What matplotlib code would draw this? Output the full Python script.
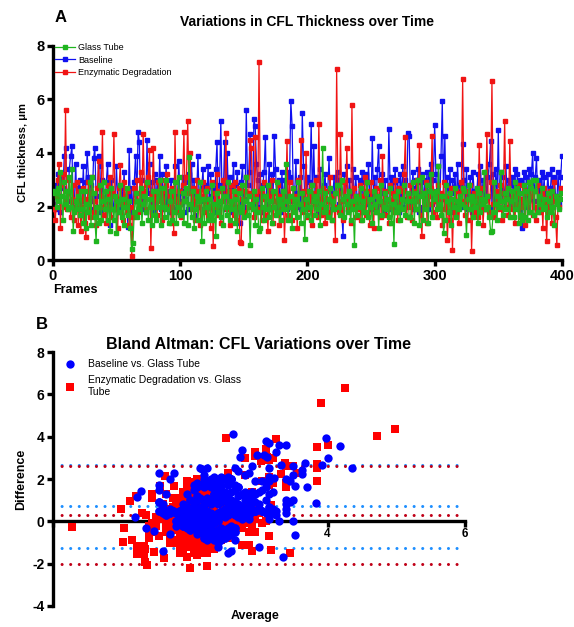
import numpy as np
import matplotlib
matplotlib.use("Agg")
import matplotlib.pyplot as plt

plt.rcParams['font.family'] = ['Liberation Sans', 'DejaVu Sans']
plt.rcParams['axes.unicode_minus'] = False

## CFL thickness (um) per frame
glass = [
    2.6,2.5,2.0,2.7,2.2,3.3,2.4,1.5,2.9,2.1,2.6,1.9,3.1,2.0,3.4,1.1,1.8,2.2,1.9,2.4,
    1.7,2.6,1.9,1.4,2.6,1.2,2.1,1.8,2.9,1.3,3.1,2.5,1.6,0.7,2.0,1.4,2.8,1.5,2.2,2.9,
    1.9,2.6,1.5,2.3,1.1,2.7,1.9,1.5,2.4,1.0,2.2,1.8,2.8,1.6,2.3,1.3,2.0,2.7,1.7,2.2,
    1.2,0.4,0.65,1.8,2.5,1.6,2.2,1.9,2.7,1.4,2.1,2.4,1.8,2.9,1.5,2.3,2.0,1.3,2.6,1.7,
    1.5,2.6,2.0,3.0,1.3,2.7,2.0,1.6,3.0,1.9,1.4,2.2,2.6,1.5,1.8,2.9,1.4,2.0,3.1,1.7,
    1.8,2.5,1.4,2.2,2.7,1.3,3.85,2.1,1.6,2.6,1.2,1.9,2.4,1.5,2.2,2.9,0.72,2.3,1.4,2.6,
    2.0,1.5,2.3,1.7,2.8,1.5,2.1,0.9,2.5,1.8,2.2,1.6,2.7,1.3,2.4,2.0,1.7,2.9,1.5,2.2,
    1.9,2.6,1.4,2.3,1.1,2.5,2.0,1.8,2.8,1.6,2.2,3.1,1.7,2.4,0.55,2.1,1.9,2.6,1.3,2.3,
    1.8,1.1,1.2,2.7,2.0,1.5,2.4,1.9,2.8,1.6,2.2,1.4,2.6,2.0,1.7,2.9,1.8,2.3,1.5,2.1,
    2.6,1.9,3.6,2.2,1.5,2.4,2.0,1.2,2.7,1.8,2.3,1.6,2.9,2.1,1.4,2.5,1.9,0.8,2.3,1.7,
    2.6,2.0,1.5,2.8,2.2,1.7,2.4,1.9,2.6,1.3,2.1,4.2,1.8,2.5,2.0,1.6,2.3,2.7,1.5,2.2,
    1.9,2.5,2.8,2.8,2.0,1.7,3.0,2.3,1.6,2.4,2.1,1.8,2.6,1.5,2.2,1.9,0.56,2.4,1.7,2.3,
    2.0,2.7,1.5,2.2,1.8,2.5,2.9,1.6,2.3,2.0,1.4,2.6,2.1,1.8,2.4,1.2,2.2,2.8,1.7,2.0,
    2.5,1.9,2.3,1.6,2.7,1.4,2.1,0.62,2.4,1.8,2.6,2.0,1.5,2.3,1.9,2.8,1.7,2.2,2.5,1.6,
    1.6,2.2,2.9,1.4,2.5,1.9,3.0,1.3,2.4,3.1,1.5,2.5,1.9,2.8,1.4,2.6,3.2,1.6,2.5,2.3,
    2.6,1.9,3.5,2.1,1.7,2.4,1.0,1.5,2.8,2.2,1.8,2.5,1.3,2.3,2.0,2.7,1.6,2.2,1.9,2.4,
    2.1,2.7,2.6,2.0,0.93,2.3,2.8,1.9,2.4,1.6,2.2,2.0,2.7,1.4,2.5,1.8,2.3,2.1,3.3,1.9,
    2.4,2.0,1.6,1.06,1.1,1.8,2.9,2.1,1.5,2.4,2.0,3.3,2.2,1.7,2.5,1.9,2.3,2.7,1.6,2.2,
    2.6,1.6,2.9,1.9,2.7,1.4,2.5,1.7,1.5,2.8,1.6,2.6,1.5,2.9,1.8,2.7,3.0,1.7,2.6,3.0,
    1.8,2.4,2.1,2.7,1.9,2.3,2.0,1.6,2.5,2.2,1.8,2.6,2.0,1.3,2.4,2.1,2.3,1.9,2.5,2.3,
]

baseline = [
    2.1,2.8,1.9,3.2,2.4,1.8,3.1,2.7,3.9,4.2,2.2,2.5,3.4,3.9,4.25,2.0,2.2,3.6,1.9,2.7,
    3.0,2.0,2.2,3.5,1.8,2.9,4.0,3.1,1.9,2.8,2.2,3.8,4.2,2.4,2.0,3.9,3.5,1.8,3.0,2.3,
    1.9,2.9,3.6,2.1,1.3,3.0,2.4,1.9,2.0,3.5,2.3,1.8,1.9,2.7,2.2,3.3,2.0,2.4,1.25,4.1,
    2.0,2.7,1.8,2.9,3.9,2.2,4.8,4.4,1.9,3.0,2.3,2.6,1.8,4.5,2.5,3.6,2.1,2.9,1.8,3.2,
    2.0,3.0,2.3,3.9,1.9,3.2,2.4,2.1,3.5,2.3,1.8,2.6,3.0,2.0,2.2,3.5,1.9,2.4,3.7,2.2,
    2.6,3.1,1.8,2.9,2.3,1.9,3.2,2.5,3.6,2.1,3.0,1.7,2.4,3.9,2.3,2.2,2.7,3.4,1.9,2.8,
    2.3,3.5,2.0,3.2,2.4,2.7,1.8,3.4,4.4,2.0,2.8,5.2,2.2,2.6,4.4,1.9,4.0,2.4,3.1,1.8,
    2.7,3.6,2.0,2.8,3.3,1.9,1.4,2.9,3.5,2.3,2.0,5.6,2.8,3.3,4.7,2.4,2.1,5.25,5.0,3.6,
    3.0,2.0,3.2,1.8,2.8,3.3,4.6,2.1,2.5,3.6,1.9,3.2,2.2,4.65,3.4,2.0,2.2,3.0,1.8,3.3,
    2.0,3.0,2.4,1.9,3.3,3.1,5.95,5.0,2.2,2.5,3.7,2.0,2.4,3.1,1.9,5.5,3.5,2.3,2.6,3.1,
    1.9,2.9,5.1,2.2,4.25,2.4,3.1,1.8,2.3,3.4,2.0,2.5,2.8,3.2,1.8,2.6,3.8,2.3,1.9,2.5,
    3.1,2.0,2.9,3.3,2.1,3.0,1.8,0.9,3.2,2.2,3.5,1.9,3.0,2.5,2.1,3.4,2.0,3.1,2.4,1.9,
    3.0,2.2,3.3,1.8,2.9,3.2,2.1,3.6,2.4,1.9,4.55,2.2,3.1,2.0,3.4,4.25,2.1,2.5,3.2,1.8,
    3.0,2.3,1.9,4.9,2.8,3.1,2.0,2.9,3.4,2.1,3.0,1.8,3.2,2.4,3.5,2.0,3.0,2.3,4.75,4.65,
    2.1,2.7,3.3,1.9,3.0,2.4,3.4,1.8,2.9,3.2,2.0,3.0,2.4,3.3,1.9,3.1,3.6,2.1,3.0,5.05,
    3.2,2.2,3.5,1.9,3.9,5.95,2.3,4.65,2.0,3.1,2.2,3.4,1.8,3.0,2.5,3.2,2.0,3.6,2.2,2.8,
    2.0,4.35,3.0,2.2,3.4,1.9,2.4,3.1,1.8,3.3,2.6,2.0,2.5,3.2,2.1,3.5,2.2,3.0,1.9,3.3,
    2.3,3.1,3.6,4.45,2.0,3.2,2.1,3.4,2.3,4.85,2.0,3.3,2.2,3.1,1.9,3.5,2.4,3.0,2.1,2.8,
    3.1,2.1,3.4,2.4,3.2,1.9,3.0,2.2,1.2,3.3,2.1,3.1,2.0,3.4,2.3,3.2,4.0,2.2,3.1,3.8,
    2.2,3.0,2.0,3.3,2.3,3.1,2.0,2.5,3.2,2.1,2.7,3.4,2.0,3.1,2.4,2.2,3.3,2.1,3.1,3.9,
]

enzymatic = [
    1.9,1.5,2.4,3.0,3.6,1.2,2.8,3.2,2.0,5.6,1.9,2.5,3.0,1.6,2.3,2.8,1.5,2.2,2.9,1.3,
    2.6,1.1,2.0,2.7,1.4,0.87,2.3,2.9,1.6,2.5,3.1,1.8,2.2,1.3,2.7,3.7,2.0,2.4,4.8,1.7,
    2.2,1.4,2.8,2.0,3.1,1.6,2.5,4.7,1.9,2.3,1.2,2.7,3.55,2.1,1.5,2.9,2.4,1.8,2.6,1.3,
    2.0,0.15,1.6,2.7,2.2,3.0,1.8,2.5,3.3,2.1,4.7,2.6,1.9,2.8,3.1,4.1,0.44,2.4,4.2,2.0,
    2.5,1.7,2.9,2.2,3.0,1.5,2.6,2.0,2.8,3.2,1.9,2.4,1.4,2.7,1.0,4.8,2.3,1.8,2.6,2.1,
    1.6,2.8,4.8,2.2,3.1,5.2,2.5,4.0,1.9,2.7,2.3,1.5,3.0,2.0,2.6,1.3,2.4,2.9,1.8,2.2,
    2.7,1.6,2.3,1.2,2.9,0.53,2.5,2.0,3.2,1.7,2.6,1.4,2.2,3.0,2.4,4.75,1.9,2.6,1.3,2.8,
    2.1,1.7,2.9,2.4,1.5,2.7,0.69,0.65,2.3,1.8,2.6,3.1,2.0,2.5,4.5,4.2,2.2,1.6,4.6,2.4,
    1.9,7.4,2.6,1.5,2.3,2.9,1.7,2.4,1.1,2.7,2.0,3.0,1.4,2.5,2.2,1.8,2.8,1.3,2.4,2.0,
    2.6,0.75,2.2,4.45,1.7,2.9,2.3,1.5,2.7,2.0,2.4,1.2,3.0,2.5,4.5,1.8,2.6,2.1,4.0,1.6,
    2.4,1.9,2.8,1.3,2.5,2.1,3.0,1.6,5.1,2.3,1.7,2.7,2.0,1.4,2.6,2.2,1.8,3.1,1.5,2.4,
    2.0,0.75,7.15,2.5,1.8,4.7,2.2,1.5,2.9,2.3,4.2,1.9,2.6,1.4,5.8,2.1,2.7,1.6,2.3,1.9,
    2.8,1.5,2.4,2.0,3.1,1.7,2.6,2.2,1.3,2.9,2.0,1.2,2.5,2.7,1.8,2.3,3.0,1.6,3.9,2.1,
    1.7,2.6,2.2,1.4,2.8,2.0,2.5,1.8,3.0,2.3,1.5,2.7,2.1,1.9,2.6,3.2,4.6,1.6,2.4,2.0,
    2.8,1.5,2.3,2.6,1.9,3.0,2.2,4.3,1.7,0.9,2.5,2.0,2.9,1.4,2.4,2.1,2.7,4.65,1.8,2.5,
    2.2,1.6,2.8,2.0,2.5,1.3,2.9,1.9,2.4,0.75,2.1,1.5,2.7,0.37,2.3,1.8,2.6,2.0,1.4,2.5,
    2.9,6.75,2.2,1.7,2.6,1.5,2.3,2.8,0.35,2.1,2.5,1.8,2.4,1.6,4.3,2.0,2.7,1.3,2.2,1.9,
    4.7,2.4,1.8,2.9,6.7,2.1,1.6,2.6,2.3,1.9,2.8,2.2,1.5,2.5,5.2,2.0,2.7,1.7,4.45,2.3,
    1.9,2.6,1.4,2.4,2.1,2.8,1.6,2.3,2.0,2.7,1.3,2.5,2.2,1.8,2.9,2.4,1.7,2.6,2.0,1.5,
    2.8,2.2,1.8,2.5,1.2,2.7,2.1,0.7,2.4,1.9,2.6,1.4,2.2,2.9,1.6,0.56,2.3,2.0,2.7,2.5,
]

GREEN = '#1fb51f'
BLUE = '#1010f0'
RED = '#f01414'

g = np.array(glass)
b = np.array(baseline)
e = np.array(enzymatic)
frames = np.arange(1, len(g) + 1)

fig = plt.figure(figsize=(5.74, 6.27), dpi=100)

##A. time series
axA = fig.add_axes([0.092, 0.585, 0.887, 0.342])
axA.plot(frames, b, color=BLUE, lw=0.9, marker='s', ms=2.4, mec=BLUE, zorder=2, label='Baseline')
axA.plot(frames, e, color=RED, lw=0.9, marker='s', ms=2.4, mec=RED, zorder=3, label='Enzymatic Degradation')
axA.plot(frames, g, color=GREEN, lw=0.9, marker='s', ms=2.4, mec=GREEN, zorder=4, label='Glass Tube')
axA.set_xlim(0, 400)
axA.set_ylim(0, 8)
axA.set_xticks([0, 100, 200, 300, 400])
axA.set_yticks([0, 2, 4, 6, 8])
for s in ['top', 'right']:
    axA.spines[s].set_visible(False)
for s in ['left', 'bottom']:
    axA.spines[s].set_linewidth(2.4)
axA.tick_params(width=2.4, length=4, labelsize=10.5, pad=2)
for t in axA.get_xticklabels() + axA.get_yticklabels():
    t.set_fontweight('bold')
axA.set_ylabel('CFL thickness, \u03bcm', fontsize=8, fontweight='bold', labelpad=6)
axA.set_xlabel('Frames', fontsize=9, fontweight='bold', loc='left', labelpad=1)
axA.set_title('Variations in CFL Thickness over Time', fontsize=10, fontweight='bold', pad=14)
h, l = axA.get_legend_handles_labels()
axA.legend([h[2], h[0], h[1]], [l[2], l[0], l[1]], loc='upper left', bbox_to_anchor=(-0.003, 1.03),
           frameon=False, fontsize=6.5, handlelength=2.2, handletextpad=0.4,
           labelspacing=0.4, borderaxespad=0)
fig.text(0.095, 0.965, 'A', fontsize=12, fontweight='bold')

##B. Bland Altman
avg_b = (b + g) / 2
dif_b = b - g
avg_e = (e + g) / 2
dif_e = e - g

axB = fig.add_axes([0.092, 0.0335, 0.718, 0.405])
for d, c in [(dif_b, '#1e8fff'), (dif_e, '#c00018')]:
    m = d.mean()
    sd = d.std(ddof=1)
    for yv in [m - 1.96 * sd, m, m + 1.96 * sd]:
        axB.plot([0, 5.9], [yv, yv], color=c, lw=2.2, ls=(0, (0.01, 2.8)),
                 dash_capstyle='round', zorder=1)
axB.scatter(avg_e, dif_e, marker='s', s=26, color='#ff0000', lw=0, zorder=3,
            label='Enzymatic Degradation vs. Glass\nTube')
axB.scatter(avg_b, dif_b, marker='o', s=36, color='#0000ff', lw=0, zorder=4,
            label='Baseline vs. Glass Tube')
axB.set_xlim(0, 6)
axB.set_ylim(-4, 8)
axB.set_yticks([-4, -2, 0, 2, 4, 6, 8])
axB.set_xticks([0, 2, 4, 6])
axB.set_xticklabels(['', '2', '4', '6'])
axB.spines['bottom'].set_position(('data', 0))
for s in ['top', 'right']:
    axB.spines[s].set_visible(False)
for s in ['left', 'bottom']:
    axB.spines[s].set_linewidth(2.4)
axB.tick_params(axis='y', width=2.4, length=4, labelsize=10, pad=2)
axB.tick_params(axis='x', width=2.4, length=4, labelsize=8.5, pad=1)
for t in axB.get_xticklabels() + axB.get_yticklabels():
    t.set_fontweight('bold')
axB.set_ylabel('Difference', fontsize=9, fontweight='bold', labelpad=4)
axB.set_xlabel('Average', fontsize=9, fontweight='bold')
axB.xaxis.set_label_coords(0.49, -0.015)
axB.xaxis.label.set_va('top')
axB.set_title('Bland Altman: CFL Variations over Time', fontsize=11.5, fontweight='bold', pad=2)
hb, lb = axB.get_legend_handles_labels()
axB.legend([hb[1], hb[0]], [lb[1], lb[0]], loc='upper left', bbox_to_anchor=(0.02, 0.99),
           frameon=False, fontsize=7.5, handlelength=1.0, handletextpad=1.2,
           labelspacing=0.6, borderaxespad=0)
fig.text(0.062, 0.475, 'B', fontsize=12, fontweight='bold')

fig.savefig('out.png', dpi=100)
